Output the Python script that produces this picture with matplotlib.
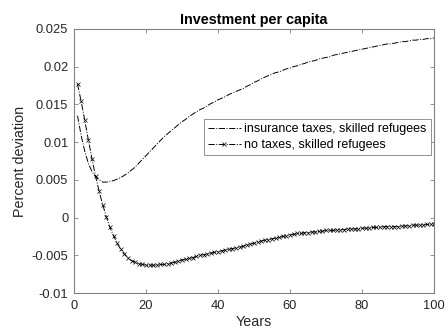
import matplotlib
matplotlib.use('Agg')
import matplotlib.pyplot as plt
import numpy as np

plt.rcParams['font.family'] = ['Liberation Sans', 'DejaVu Sans']
plt.rcParams['axes.unicode_minus'] = False

years = np.arange(1, 101)

# insurance taxes, skilled refugees (one value per year)
insurance = [
    0.0135, 0.0109, 0.0088, 0.0072, 0.0061, 0.0054, 0.0050, 0.0047, 0.0047, 0.0048,
    0.0049, 0.0051, 0.0053, 0.0056, 0.0059, 0.0063, 0.0067, 0.0072, 0.0077, 0.0082,
    0.0087, 0.0092, 0.0097, 0.0102, 0.0107, 0.0111, 0.0115, 0.0119, 0.0123, 0.0127,
    0.0130, 0.0134, 0.0137, 0.0140, 0.0143, 0.0145, 0.0148, 0.0151, 0.0153, 0.0156,
    0.0158, 0.0160, 0.0163, 0.0165, 0.0167, 0.0169, 0.0171, 0.0174, 0.0176, 0.0179,
    0.0181, 0.0184, 0.0186, 0.0188, 0.0190, 0.0192, 0.0193, 0.0195, 0.0197, 0.0198,
    0.0200, 0.0201, 0.0203, 0.0204, 0.0206, 0.0207, 0.0208, 0.0210, 0.0211, 0.0212,
    0.0213, 0.0215, 0.0216, 0.0217, 0.0218, 0.0219, 0.0220, 0.0221, 0.0222, 0.0223,
    0.0224, 0.0225, 0.0226, 0.0227, 0.0228, 0.0229, 0.0230, 0.0230, 0.0231, 0.0232,
    0.0233, 0.0233, 0.0234, 0.0235, 0.0235, 0.0236, 0.0236, 0.0237, 0.0237, 0.0238,
]

# no taxes, skilled refugees
no_taxes = [
    0.0177, 0.0154, 0.0129, 0.0103, 0.0078, 0.0055, 0.0035, 0.0017, 0.0001, -0.0013,
    -0.0024, -0.0034, -0.0042, -0.0048, -0.0053, -0.0057, -0.0059, -0.0061, -0.0062, -0.0063,
    -0.0063, -0.0063, -0.0063, -0.0062, -0.0062, -0.0061, -0.0060, -0.0059, -0.0058, -0.0056,
    -0.0055, -0.0054, -0.0053, -0.0051, -0.0050, -0.0049, -0.0048, -0.0047, -0.0046, -0.0045,
    -0.0044, -0.0043, -0.0042, -0.0041, -0.0040, -0.0039, -0.0038, -0.0036, -0.0035, -0.0034,
    -0.0032, -0.0031, -0.0030, -0.0029, -0.0028, -0.0027, -0.0026, -0.0025, -0.0024, -0.0023,
    -0.0022, -0.0021, -0.0021, -0.0020, -0.0020, -0.0019, -0.0019, -0.0018, -0.0018, -0.0017,
    -0.0017, -0.0017, -0.0016, -0.0016, -0.0016, -0.0015, -0.0015, -0.0015, -0.0015, -0.0014,
    -0.0014, -0.0014, -0.0013, -0.0013, -0.0013, -0.0012, -0.0012, -0.0012, -0.0012, -0.0012,
    -0.0011, -0.0011, -0.0011, -0.0010, -0.0010, -0.0010, -0.0010, -0.0009, -0.0009, -0.0009,
]

x_ticks = [0, 20, 40, 60, 80, 100]
y_ticks = [-0.01, -0.005, 0, 0.005, 0.01, 0.015, 0.02, 0.025]
y_labels = ['-0.01', '-0.005', '0', '0.005', '0.01', '0.015', '0.02', '0.025']

fig = plt.figure(figsize=(4.48, 3.35), dpi=100)
ax = fig.add_axes([0.165, 0.125, 0.804, 0.789])

ax.plot(years, insurance, '-.', color='black', linewidth=0.7,
        label='insurance taxes, skilled refugees')
ax.plot(years, no_taxes, '-.', color='black', linewidth=0.7, marker='x',
        markersize=3, markeredgewidth=0.5, label='no taxes, skilled refugees')

ax.set_xlim(0, 100)
ax.set_ylim(-0.01, 0.025)
ax.set_xticks(x_ticks)
ax.set_yticks(y_ticks)
ax.set_yticklabels(y_labels)

grey = '#808080'
for s in ax.spines.values():
    s.set_color(grey)
    s.set_linewidth(0.8)
ax.tick_params(direction='in', top=True, right=True, length=3, width=0.6,
               color=grey, labelsize=9.3, labelcolor='#262626')
ax.tick_params(axis='x', pad=5)
ax.tick_params(axis='y', pad=4)

ax.set_title('Investment per capita', fontsize=10.4, fontweight='bold', pad=3.5)
ax.set_xlabel('Years', fontsize=10.3, color='#262626', labelpad=2)
ax.set_ylabel('Percent deviation', fontsize=10.3, color='#262626', labelpad=3)

# legend box sits just right of the curves' crossing region, below the upper curve
leg = ax.legend(loc='upper right', bbox_to_anchor=(0.992, 0.659), borderaxespad=0,
                fontsize=9.0, fancybox=False, framealpha=1, edgecolor=grey,
                handlelength=2.6, handletextpad=0.3, borderpad=0.35, labelspacing=0.3)
leg.get_frame().set_linewidth(0.6)

fig.savefig('out.png', dpi=100)
